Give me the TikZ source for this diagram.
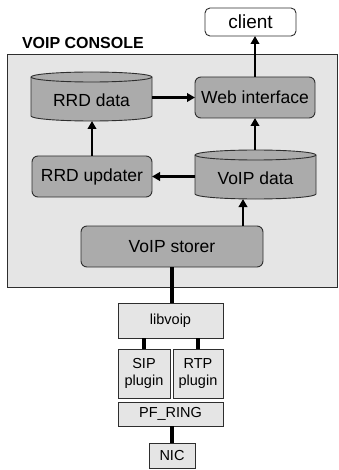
\documentclass[tikz,border=0pt]{standalone}
\usepackage{fontspec}
\setmainfont{Liberation Sans}
\usetikzlibrary{arrows.meta}
\definecolor{panelgray}{HTML}{E5E5E5}
\definecolor{boxgray}{HTML}{ABABAB}
\definecolor{edgegray}{HTML}{2E2E2E}

% cylinder (data store): #1 left x, #2 right x, #3 top y, #4 bottom y (y measured downward)
\newcommand{\datacyl}[4]{%
  \pgfmathsetmacro\cylrx{(#2-#1)/2}%
  \filldraw[cylline] (#1,-#3-5) -- (#1,-#4+5)
    arc[start angle=180,end angle=360,x radius=\cylrx pt,y radius=5pt]
    -- (#2,-#3-5)
    arc[start angle=0,end angle=180,x radius=\cylrx pt,y radius=5pt] -- cycle;
  \draw[cylline] (#1,-#3-5) arc[start angle=180,end angle=360,x radius=\cylrx pt,y radius=5pt];
}

\begin{document}
\begin{tikzpicture}[x=1pt,y=1pt,
  every node/.style={inner sep=0pt,outer sep=0pt},
  bigfont/.style={font=\fontsize{17.5}{20}\selectfont},
  smallfont/.style={font=\fontsize{14.5}{17}\selectfont},
  procbox/.style={draw=edgegray,line width=0.9pt,fill=boxgray,rounded corners=6pt,bigfont},
  cylline/.style={draw=edgegray,line width=0.9pt,fill=boxgray},
  cylarea/.style={draw=none,fill=none},
  libbox/.style={draw=edgegray,line width=0.9pt,fill=panelgray,smallfont,align=center},
  arr/.style={line width=2.2pt,-{Triangle[length=8pt,width=8.5pt]}},
  thickline/.style={line width=4pt,black}
]
\useasboundingbox (0,0) rectangle (338,-470);

% console panel and its title
\node[draw=edgegray,line width=0.9pt,fill=panelgray,anchor=north west,
      minimum width=330,minimum height=233] (console) at (7,-54) {};
\node[anchor=base west,font=\fontsize{16}{19}\bfseries] (title) at (22,-48.5) {VOIP CONSOLE};

% client outside the console
\node[draw=edgegray,line width=0.9pt,fill=white,rounded corners=5pt,
      minimum width=91,minimum height=28,font=\fontsize{19}{22}\selectfont]
      (client) at (250.5,-22) {client};

% data stores
\datacyl{31}{152}{72}{121}
\node[cylarea,minimum width=121,minimum height=49] (rrd) at (91.5,-96.5) {};
\node[bigfont] (rrdtext) at (91.5,-100.5) {RRD data};

\datacyl{195}{316}{150}{199}
\node[cylarea,minimum width=121,minimum height=49] (vdata) at (255.5,-174.5) {};
\node[bigfont] (vdatatext) at (255.5,-178) {VoIP data};

% processes
\node[procbox,minimum width=120,minimum height=41] (web) at (255,-97.5) {Web interface};
\node[procbox,minimum width=120,minimum height=41] (upd) at (92,-176.5) {RRD updater};
\node[procbox,minimum width=182,minimum height=41] (store) at (172,-246.5) {VoIP storer};

% capture stack
\node[libbox,minimum width=105,minimum height=35] (lib) at (170.5,-320.5) {libvoip};
\node[libbox,minimum width=52,minimum height=49] (sip) at (144,-373.5) {SIP\\plugin};
\node[libbox,minimum width=50,minimum height=49] (rtp) at (198,-373.5) {RTP\\plugin};
\node[libbox,minimum width=105,minimum height=24] (pf) at (170.5,-414) {PF\_RING};
\node[libbox,minimum width=46,minimum height=25] (nic) at (172,-455.5) {NIC};

% data flow
\draw[arr] (rrd.east |- web.west) -- (web.west);
\draw[arr] (web.north) -- (web.north |- client.south);
\draw[arr] (vdata.north -| web.south) -- (web.south);
\draw[arr] (vdata.west |- upd.east) -- (upd.east);
\draw[arr] (upd.north) -- (upd.north |- rrd.south);
\coordinate (storeout) at (243,-226);
\draw[arr] (storeout) -- (storeout |- vdata.south);

% links in the capture stack
\draw[thickline] (store.south) -- (store.south |- lib.north);
\draw[thickline] (sip.north |- lib.south) -- (sip.north);
\draw[thickline] (rtp.north |- lib.south) -- (rtp.north);
\draw[thickline] (nic.north |- pf.south) -- (nic.north);
\end{tikzpicture}
\end{document}
